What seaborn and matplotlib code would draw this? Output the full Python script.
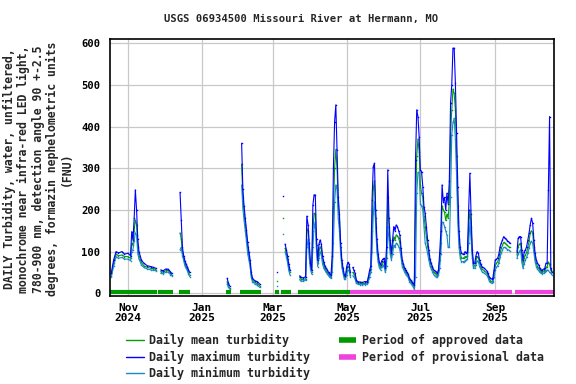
import pandas as pd
import seaborn as sns
import matplotlib.pyplot as plt
import matplotlib.dates as mdates
from matplotlib.lines import Line2D

# daily turbidity (FNU); None = no data (breaks the line)
days = [
    '2024-10-18', '2024-10-20', '2024-10-22', '2024-10-24', '2024-10-27', '2024-10-29', '2024-11-01', '2024-11-03',
    '2024-11-04', '2024-11-05', '2024-11-06', '2024-11-07', '2024-11-08', '2024-11-09', '2024-11-10', '2024-11-12',
    '2024-11-14', '2024-11-17', '2024-11-20', '2024-11-22', '2024-11-24', '2024-11-26',
    '2024-11-28', '2024-11-30', '2024-12-02', '2024-12-04', '2024-12-06', '2024-12-07', '2024-12-10',
    '2024-12-14', '2024-12-15', '2024-12-16', '2024-12-17', '2024-12-18', '2024-12-19', '2024-12-20', '2024-12-21',
    '2024-12-22', '2025-01-05',
    '2025-01-22', '2025-01-23', '2025-01-24', '2025-01-29',
    '2025-02-03', '2025-02-04', '2025-02-05', '2025-02-06', '2025-02-07', '2025-02-08', '2025-02-09', '2025-02-10',
    '2025-02-11', '2025-02-12', '2025-02-14', '2025-02-16', '2025-02-18', '2025-02-25',
    '2025-03-04', '2025-03-06', '2025-03-09', '2025-03-10',
    '2025-03-11', '2025-03-12', '2025-03-13', '2025-03-14', '2025-03-15', '2025-03-19',
    '2025-03-23', '2025-03-24', '2025-03-26', '2025-03-28', '2025-03-29', '2025-03-30', '2025-03-31', '2025-04-01',
    '2025-04-02', '2025-04-03', '2025-04-04', '2025-04-05', '2025-04-06', '2025-04-07', '2025-04-08', '2025-04-09',
    '2025-04-10', '2025-04-11', '2025-04-12', '2025-04-13', '2025-04-14', '2025-04-15', '2025-04-16', '2025-04-17',
    '2025-04-18', '2025-04-19', '2025-04-20', '2025-04-21', '2025-04-22', '2025-04-23', '2025-04-24', '2025-04-25',
    '2025-04-26', '2025-04-27', '2025-04-28', '2025-04-29', '2025-04-30', '2025-05-01', '2025-05-02', '2025-05-03',
    '2025-05-04', '2025-05-05',
    '2025-05-06', '2025-05-07', '2025-05-08', '2025-05-09', '2025-05-10', '2025-05-12', '2025-05-14', '2025-05-16',
    '2025-05-18', '2025-05-19', '2025-05-20', '2025-05-21', '2025-05-22', '2025-05-23', '2025-05-24', '2025-05-25',
    '2025-05-26', '2025-05-27', '2025-05-28', '2025-05-29', '2025-05-30', '2025-05-31', '2025-06-01', '2025-06-02',
    '2025-06-03', '2025-06-04', '2025-06-05', '2025-06-06', '2025-06-07', '2025-06-08', '2025-06-09', '2025-06-10',
    '2025-06-11', '2025-06-12', '2025-06-13', '2025-06-14', '2025-06-15', '2025-06-16', '2025-06-17', '2025-06-18',
    '2025-06-19', '2025-06-20', '2025-06-21', '2025-06-22', '2025-06-23', '2025-06-24', '2025-06-25', '2025-06-26',
    '2025-06-27', '2025-06-28', '2025-06-29', '2025-06-30', '2025-07-01', '2025-07-02', '2025-07-03', '2025-07-04',
    '2025-07-05', '2025-07-06', '2025-07-07', '2025-07-08', '2025-07-09', '2025-07-10', '2025-07-11', '2025-07-12',
    '2025-07-13', '2025-07-14', '2025-07-15', '2025-07-16', '2025-07-17', '2025-07-18', '2025-07-19', '2025-07-20',
    '2025-07-21', '2025-07-22', '2025-07-23', '2025-07-24', '2025-07-25', '2025-07-26', '2025-07-27', '2025-07-28',
    '2025-07-29', '2025-07-30', '2025-07-31', '2025-08-01', '2025-08-02', '2025-08-03', '2025-08-04', '2025-08-05',
    '2025-08-06', '2025-08-07', '2025-08-08', '2025-08-09', '2025-08-10', '2025-08-11', '2025-08-12', '2025-08-13',
    '2025-08-14', '2025-08-15', '2025-08-16', '2025-08-17', '2025-08-18', '2025-08-19', '2025-08-20', '2025-08-21',
    '2025-08-23', '2025-08-25', '2025-08-26', '2025-08-27', '2025-08-28', '2025-08-29', '2025-08-30', '2025-08-31',
    '2025-09-01', '2025-09-02', '2025-09-03', '2025-09-04', '2025-09-05', '2025-09-06', '2025-09-07', '2025-09-08',
    '2025-09-09', '2025-09-10', '2025-09-11', '2025-09-12', '2025-09-13', '2025-09-15',
    '2025-09-19', '2025-09-20', '2025-09-21', '2025-09-22', '2025-09-23', '2025-09-24', '2025-09-25', '2025-09-26',
    '2025-09-27', '2025-09-28', '2025-09-29', '2025-09-30', '2025-10-01', '2025-10-02', '2025-10-03', '2025-10-04',
    '2025-10-05', '2025-10-06', '2025-10-07', '2025-10-08', '2025-10-09', '2025-10-10', '2025-10-11', '2025-10-12',
    '2025-10-13', '2025-10-14', '2025-10-15', '2025-10-16', '2025-10-17', '2025-10-18',
]

max_fnu = [
    48, 80, 100, 97, 100, 94, 96, 90,
    148, 128, 180, 248, 200, 130, 100, 80,
    72, 66, 64, 62, 60, None,
    56, 54, 58, 58, 52, 48, None,
    242, 176, 110, 90, 78, 70, 64, 56,
    50, None,
    36, 25, 18, None,
    360, 250, 210, 180, 152, 122, 100, 80,
    50, 36, 30, 28, 22, None,
    51, None, 234, None,
    118, 105, 90, 70, 56, None,
    42, 38, 37, 40, 185, 165, 120, 72,
    56, 212, 236, 236, 130, 80, 118, 128,
    118, 90, 75, 66, 60, 56, 50, 46,
    44, 90, 300, 412, 452, 344, 232, 190,
    120, 80, 60, 44, 42, 64, 74, 70,
    50, None,
    62, 55, 48, 32, 28, 27, 26, 28,
    28, 40, 56, 66, 224, 304, 312, 200,
    130, 95, 75, 68, 78, 82, 84, 60,
    110, 296, 180, 128, 96, 128, 160, 150,
    164, 160, 150, 140, 108, 80, 70, 60,
    55, 50, 46, 36, 32, 28, 24, 20,
    320, 440, 424, 376, 296, 292, 256, 208,
    192, 160, 128, 104, 82, 72, 64, 56,
    54, 52, 48, 56, 96, 150, 260, 220,
    230, 200, 240, 215, 270, 456, 500, 588,
    588, 504, 384, 256, 150, 110, 96, 94,
    94, 100, 96, 100, 200, 288, 190, 104,
    72, 72, 90, 100, 96, 80, 70, 64,
    60, 54, 48, 40, 36, 34, 36, 56,
    80, 82, 84, 94, 112, 120, 128, 136,
    132, 130, 126, 124, 120, None,
    100, 132, 136, 136, 104, 80, 100, 104,
    112, 128, 144, 165, 180, 168, 128, 96,
    80, 72, 68, 60, 56, 56, 58, 60,
    72, 72, 248, 424, 60, 52,
]

mean_fnu = [
    42, 72, 94, 90, 92, 88, 88, 84,
    120, 115, 150, 176, 165, 110, 90, 74,
    66, 62, 60, 59, 57, None,
    52, 51, 54, 55, 49, 45, None,
    145, 130, 98, 84, 72, 64, 60, 50,
    45, None,
    28, 20, 13, None,
    310, 230, 190, 165, 140, 110, 90, 72,
    44, 32, 26, 23, 18, None,
    29, None, 181, None,
    108, 95, 82, 62, 50, None,
    38, 34, 33, 35, 155, 150, 100, 65,
    52, 150, 192, 190, 115, 72, 100, 112,
    105, 80, 68, 60, 54, 50, 46, 42,
    40, 65, 200, 300, 345, 300, 210, 170,
    110, 72, 54, 40, 38, 55, 65, 62,
    45, None,
    50, 46, 40, 28, 25, 24, 23, 24,
    25, 34, 48, 58, 150, 250, 270, 180,
    115, 85, 68, 62, 70, 74, 76, 55,
    85, 230, 160, 110, 88, 110, 135, 128,
    140, 138, 132, 122, 98, 72, 64, 55,
    50, 46, 42, 32, 28, 24, 20, 16,
    200, 330, 370, 340, 260, 240, 230, 185,
    160, 135, 112, 92, 74, 65, 58, 50,
    48, 46, 42, 50, 80, 120, 210, 200,
    195, 175, 190, 180, 220, 380, 440, 490,
    480, 440, 330, 210, 130, 96, 85, 84,
    85, 88, 88, 90, 160, 200, 160, 95,
    66, 66, 78, 88, 86, 72, 64, 58,
    54, 48, 42, 34, 30, 28, 30, 46,
    66, 72, 76, 82, 98, 108, 115, 122,
    120, 118, 115, 112, 110, None,
    92, 112, 118, 120, 90, 70, 85, 92,
    98, 110, 125, 145, 150, 145, 112, 86,
    72, 64, 60, 55, 52, 52, 53, 55,
    62, 64, 75, 70, 55, 50,
]

min_fnu = [
    38, 65, 88, 84, 86, 82, 82, 78,
    100, 105, 125, 145, 140, 95, 82, 68,
    62, 58, 56, 55, 54, None,
    48, 47, 50, 51, 45, 42, None,
    105, 110, 90, 78, 66, 60, 55, 46,
    40, None,
    22, 15, 10, None,
    260, 205, 175, 150, 125, 95, 80, 64,
    38, 28, 22, 19, 14, None,
    17, None, 142, None,
    100, 88, 74, 55, 44, None,
    33, 30, 29, 31, 110, 130, 85, 58,
    46, 110, 160, 172, 100, 64, 85, 100,
    92, 70, 60, 55, 50, 46, 42, 38,
    36, 50, 120, 220, 260, 250, 180, 150,
    95, 62, 48, 35, 34, 45, 55, 55,
    40, None,
    42, 40, 34, 24, 22, 21, 20, 21,
    22, 28, 40, 50, 100, 190, 220, 160,
    100, 75, 62, 56, 64, 66, 68, 50,
    65, 160, 130, 95, 80, 95, 115, 110,
    120, 118, 112, 105, 86, 64, 58, 50,
    45, 42, 38, 28, 24, 20, 16, 10,
    40, 240, 290, 290, 215, 210, 200, 160,
    120, 110, 95, 80, 66, 58, 52, 45,
    42, 40, 38, 44, 60, 95, 170, 170,
    160, 150, 140, 110, 110, 230, 380, 410,
    420, 370, 280, 170, 110, 85, 76, 76,
    76, 78, 80, 82, 120, 170, 130, 85,
    60, 60, 68, 78, 76, 64, 58, 52,
    48, 43, 38, 30, 26, 24, 26, 38,
    56, 62, 66, 72, 86, 96, 104, 110,
    110, 108, 105, 104, 102, None,
    84, 95, 100, 105, 75, 60, 70, 80,
    86, 96, 108, 120, 125, 120, 98, 76,
    64, 58, 54, 50, 48, 47, 48, 50,
    54, 56, 55, 50, 48, 44,
]

# approval status periods
approved_start = ['2024-10-17', '2024-11-26', '2024-12-13', '2025-01-21', '2025-02-02', '2025-03-03', '2025-03-08', '2025-03-22']
approved_end = ['2024-11-25', '2024-12-08', '2024-12-22', '2025-01-25', '2025-02-19', '2025-03-06', '2025-03-16', '2025-05-04']
provisional_start = ['2025-05-04', '2025-09-17']
provisional_end = ['2025-09-15', '2025-10-20']

month_ticks = ['2024-11-01', '2025-01-01', '2025-03-01', '2025-05-01', '2025-07-01', '2025-09-01']

c_mean = '#00a000'
c_max = '#0000ff'
c_min = '#1a88cc'
c_appr = '#009900'
c_prov = '#ee44dd'

sns.set_style('white')
plt.rcParams['font.family'] = ['DejaVu Sans Mono']
plt.rcParams['font.weight'] = 'bold'

df = pd.DataFrame({'day': pd.to_datetime(days), 'max': max_fnu, 'mean': mean_fnu, 'min': min_fnu})

fig = plt.figure(figsize=(5.76, 3.84), dpi=100)
ax = fig.add_axes([110 / 576, 1 - 296 / 384, 444 / 576, 257 / 384])

# mean first, min and max over it
for col, color in [('mean', c_mean), ('min', c_min), ('max', c_max)]:
    part = df[['day', col]].copy()
    part['seg'] = part[col].isna().cumsum()
    part = part.dropna()
    sns.lineplot(data=part, x='day', y=col, units='seg', estimator=None, color=color,
                 lw=0.8, marker='s', markersize=1.0, markeredgewidth=0, legend=False, ax=ax)

ax.hlines([3] * len(approved_start), mdates.date2num(pd.to_datetime(approved_start)),
          mdates.date2num(pd.to_datetime(approved_end)), color=c_appr, lw=3, capstyle='butt')
ax.hlines([3] * len(provisional_start), mdates.date2num(pd.to_datetime(provisional_start)),
          mdates.date2num(pd.to_datetime(provisional_end)), color=c_prov, lw=3, capstyle='butt')

ax.set_xlim(pd.Timestamp('2024-10-17'), pd.Timestamp('2025-10-19 16:00'))
ax.set_ylim(-6.5, 610)
ax.set_yticks(range(0, 601, 100))
ticks = pd.to_datetime(month_ticks)
ax.set_xticks(ticks, [t.strftime('%b\n%Y') for t in ticks])
ax.grid(True, color='#c8c8c8', lw=0.9)
ax.set_axisbelow(True)
ax.tick_params(length=0, colors='black')
ax.tick_params(axis='x', pad=5, labelsize=8)
ax.tick_params(axis='y', pad=7, labelsize=7.6)
for lab in ax.get_xticklabels():
    lab.set_linespacing(1.05)
ax.set_xlabel('')
ax.set_ylabel('')
for sp in ax.spines.values():
    sp.set_color('black')
    sp.set_linewidth(1.2)

fig.text(301 / 576, 1 - 19 / 384, 'USGS 06934500 Missouri River at Hermann, MO',
         ha='center', va='center', fontsize=7.6)
fig.text(38 / 576, 1 - 169 / 384,
         'DAILY Turbidity, water, unfiltered,\nmonochrome near infra-red LED light,\n'
         '780-900 nm, detection angle 90 +-2.5\ndegrees, formazin nephelometric units\n(FNU)',
         rotation=90, ha='center', va='center', multialignment='center',
         fontsize=8.3, linespacing=1.12)

handles = [
    Line2D([], [], color=c_mean, lw=1),
    Line2D([], [], color=c_max, lw=1),
    Line2D([], [], color=c_min, lw=1),
    Line2D([], [], color=c_appr, lw=4, solid_capstyle='butt'),
    Line2D([], [], color=c_prov, lw=4, solid_capstyle='butt'),
]
labels = ['Daily mean turbidity', 'Daily maximum turbidity', 'Daily minimum turbidity',
          'Period of approved data', 'Period of provisional data']
fig.legend(handles, labels, ncol=2, loc='upper left', bbox_to_anchor=(126 / 576, 1 - 334 / 384),
           frameon=False, fontsize=8.4, borderpad=0, borderaxespad=0, handlelength=1.5,
           handletextpad=0.45, columnspacing=2.5, labelspacing=0.3)

fig.savefig('out.png', dpi=100)
